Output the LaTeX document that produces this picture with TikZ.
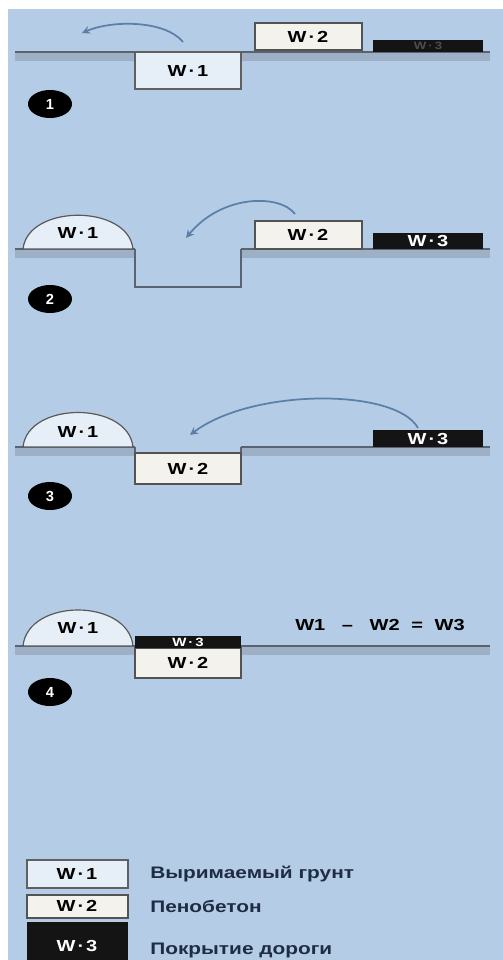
\documentclass[tikz,border=0pt]{standalone}
\usepackage{fontspec}
\setmainfont{Liberation Sans}
\usetikzlibrary{arrows.meta,shapes.geometric}
\definecolor{bg}{HTML}{B4CCE5}
\definecolor{bandc}{HTML}{9DB0C5}
\definecolor{groundc}{HTML}{5A6470}
\definecolor{w1c}{HTML}{E6EFF8}
\definecolor{w2c}{HTML}{F3F2EC}
\definecolor{arrc}{HTML}{5B7FA8}
\definecolor{legtext}{HTML}{1E2C44}
\newcommand{\wl}[1]{W\hspace{1.2pt}·\hspace{1.2pt}#1}
\begin{document}
\begin{tikzpicture}[x=0.75pt,y=-0.75pt,
  band/.style={fill=bandc},
  ground/.style={draw=groundc,line width=1.1pt},
  wallline/.style={draw=groundc,line width=1pt},
  wone/.style={draw=gray!75!black,line width=1pt,fill=w1c},
  wtwo/.style={draw=gray!65!black,line width=1pt,fill=w2c},
  wthree/.style={fill=black!92},
  dome/.style={draw=gray!70!black,line width=0.9pt,fill=w1c},
  lbl/.style={font=\bfseries\fontsize{12}{12}\selectfont,text=black,inner sep=0pt,xscale=1.25},
  lblw/.style={lbl,text=white},
  arr/.style={draw=arrc,line width=1.3pt,-{Stealth[length=6pt,width=6pt]}},
  badge/.style={ellipse,fill=black,minimum width=33pt,minimum height=21pt,inner sep=0pt,text=white,font=\bfseries\fontsize{11}{11}\selectfont},
  legtxt/.style={font=\bfseries\fontsize{12.5}{13}\selectfont,text=legtext,anchor=west,inner sep=0pt,xscale=1.25}
]
\useasboundingbox (0,0) rectangle (503,960);
\fill[white] (0,0) rectangle (503,960);
\fill[bg] (8,9) rectangle (503,960);

% ---------------- Panel 1 ----------------
\fill[band] (15,52) rectangle (490,61);
\draw[ground] (15,52) -- (490,52);
\draw[wone] (135,52) rectangle (241,89);
\node[lbl] (p1w1) at (188,71) {\wl{1}};
\draw[wtwo] (255,23) rectangle (362,50);
\node[lbl] (p1w2) at (308,37) {\wl{2}};
\fill[wthree] (373,40) rectangle (483,52);
\node[lbl,text=gray!60!black,font=\bfseries\fontsize{8}{8}\selectfont] (p1w3) at (428,46) {\wl{3}};
\coordinate (a1s) at (183,42);
\coordinate (a1e) at (82,33);
\draw[arr] (a1s) .. controls (165,20) and (112,20) .. (a1e);
\node[badge] (b1) at (50,104) {1};

% ---------------- Panel 2 ----------------
\fill[band] (15,249) rectangle (135,258);
\fill[band] (241,249) rectangle (490,258);
\draw[ground] (15,249) -- (135,249);
\draw[ground] (241,249) -- (490,249);
\draw[wallline] (135,249) -- (135,287) -- (241,287) -- (241,249);
\draw[dome] (23,249) .. controls (28,204) and (128,204) .. (133,249) -- cycle;
\node[lbl] (p2w1) at (78,233) {\wl{1}};
\draw[wtwo] (255,221) rectangle (362,249);
\node[lbl] (p2w2) at (308,235) {\wl{2}};
\fill[wthree] (373,233) rectangle (483,249);
\node[lblw] (p2w3) at (428,241) {\wl{3}};
\coordinate (a2s) at (295,214);
\coordinate (a2e) at (186,238);
\draw[arr] (a2s) .. controls (280,194) and (222,194) .. (a2e);
\node[badge] (b2) at (50,299) {2};

% ---------------- Panel 3 ----------------
\fill[band] (15,447) rectangle (135,456);
\fill[band] (241,447) rectangle (490,456);
\draw[ground] (15,447) -- (135,447);
\draw[ground] (241,447) -- (490,447);
\draw[wallline] (135,447) -- (135,484) -- (241,484) -- (241,447);
\draw[wtwo] (135,453) rectangle (241,484);
\node[lbl] (p3w2) at (188,469) {\wl{2}};
\draw[dome] (23,447) .. controls (28,401) and (128,401) .. (133,447) -- cycle;
\node[lbl] (p3w1) at (78,432) {\wl{1}};
\fill[wthree] (373,430) rectangle (483,447);
\node[lblw] (p3w3) at (428,439) {\wl{3}};
\coordinate (a3s) at (418,428);
\coordinate (a3e) at (190,435);
\draw[arr] (a3s) .. controls (396,388) and (252,388) .. (a3e);
\node[badge] (b3) at (50,496) {3};

% ---------------- Panel 4 ----------------
\fill[band] (15,646) rectangle (135,655);
\fill[band] (241,646) rectangle (490,655);
\draw[ground] (15,646) -- (135,646);
\draw[ground] (241,646) -- (490,646);
\draw[wtwo] (135,648) rectangle (241,678);
\node[lbl] (p4w2) at (188,663) {\wl{2}};
\fill[wthree] (135,636) rectangle (241,648);
\node[lblw,font=\bfseries\fontsize{9}{9}\selectfont] (p4w3) at (188,642) {\wl{3}};
\draw[dome] (23,646) .. controls (28,598) and (128,598) .. (133,646) -- cycle;
\node[lbl] (p4w1) at (78,628) {\wl{1}};
\node[lbl] (eq) at (380,625) {W1\hspace{10pt}–\hspace{10pt}W2\hspace{7pt}=\hspace{7pt}W3};
\node[badge] (b4) at (50,692) {4};

% ---------------- Legend ----------------
\draw[wone] (27,860) rectangle (128,888);
\node[lbl] (l1) at (77,874) {\wl{1}};
\node[legtxt] (t1) at (150,874) {Выримаемый грунт};
\draw[wtwo] (27,895) rectangle (128,918);
\node[lbl] (l2) at (77,906) {\wl{2}};
\node[legtxt] (t2) at (150,906) {Пенобетон};
\fill[wthree] (27,922) rectangle (128,962);
\node[lblw] (l3) at (77,946) {\wl{3}};
\node[legtxt] (t3) at (150,950) {Покрытие дороги};
\end{tikzpicture}
\end{document}
